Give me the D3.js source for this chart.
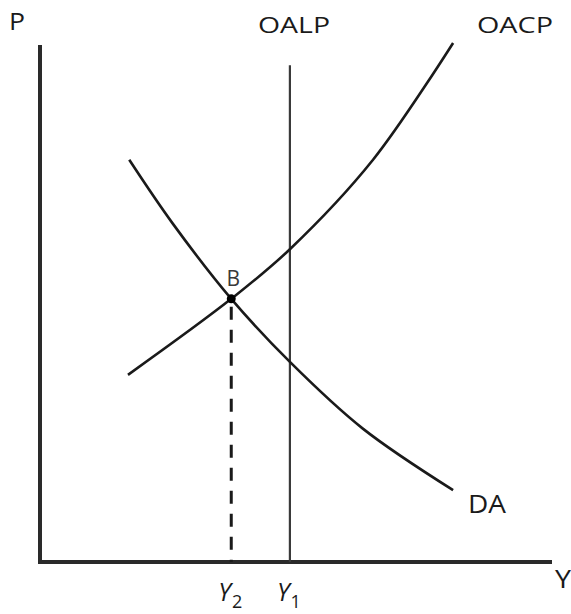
<!DOCTYPE html>
<html>
<head>
<meta charset="utf-8">
<script src="https://cdn.jsdelivr.net/npm/d3@7"></script>
<style>
  body { margin: 0; background: #fff; }
  text { font-family: "Open Sans", "Liberation Sans", sans-serif; fill: #1a1a1a; }
</style>
</head>
<body>
<svg id="chart" width="571" height="614"></svg>
<script>
// curve points (Y on x axis, P on y axis, both 0..100)
const oacpY = [17.25, 37.5, 49, 65.3, 81];
const oacpP = [36.2, 50.9, 60.5, 77.8, 100.4];

const daY = [17.5, 26, 37.5, 49, 63.3, 81];
const daP = [77.8, 65.5, 50.9, 38.7, 25.8, 13.9];

// long-run supply is vertical
const oalpY = 49;
const oalpTop = 96.1;

// equilibrium B
const eqY = 37.5, eqP = 50.9;

// labels under the axis
const tickNames = ["Y", "Y"];
const tickSubs = ["2", "1"];
const tickAt = [eqY, oalpY];

const svg = d3.select("#chart");
const x = d3.scaleLinear().domain([0, 100]).range([40, 550]);
const y = d3.scaleLinear().domain([0, 100]).range([562, 45]);

const line = d3.line().x(d => x(d[0])).y(d => y(d[1])).curve(d3.curveCatmullRom.alpha(0.5));

// axes
svg.append("line").attr("x1", x(0)).attr("x2", x(0)).attr("y1", y(100)).attr("y2", y(0) + 2)
  .attr("stroke", "#2a2a2a").attr("stroke-width", 4);
svg.append("line").attr("x1", x(0) - 2).attr("x2", x(100) + 2).attr("y1", y(0)).attr("y2", y(0))
  .attr("stroke", "#2a2a2a").attr("stroke-width", 4);

// OALP
svg.append("line").attr("x1", x(oalpY)).attr("x2", x(oalpY)).attr("y1", y(oalpTop)).attr("y2", y(0))
  .attr("stroke", "#3a3a3a").attr("stroke-width", 2.2);

// curves
svg.append("path").datum(d3.zip(oacpY, oacpP)).attr("d", line)
  .attr("fill", "none").attr("stroke", "#1a1a1a").attr("stroke-width", 2.6);
svg.append("path").datum(d3.zip(daY, daP)).attr("d", line)
  .attr("fill", "none").attr("stroke", "#1a1a1a").attr("stroke-width", 2.6);

// dashed drop line from B
svg.append("line").attr("x1", x(eqY)).attr("x2", x(eqY)).attr("y1", y(eqP) + 8).attr("y2", y(0))
  .attr("stroke", "#1a1a1a").attr("stroke-width", 3).attr("stroke-dasharray", "13,10");

svg.append("circle").attr("cx", x(eqY)).attr("cy", y(eqP)).attr("r", 4.5).attr("fill", "#000");
svg.append("text").attr("x", x(eqY) + 2).attr("y", y(eqP) - 13).attr("text-anchor", "middle")
  .attr("font-size", 21).style("fill", "#3a3a3a").text("B");

// curve / axis names, text is a bit wide in the source so stretch it
function label(t, px, py, size, w) {
  svg.append("text").attr("x", px).attr("y", py).attr("font-size", size)
    .attr("textLength", w).attr("lengthAdjust", "spacingAndGlyphs").text(t);
}
label("P", 9, 30, 24, 16);
label("OALP", 258, 33, 22, 72);
label("OACP", 477, 33, 22, 76);
label("DA", 468, 513, 25, 38);
label("Y", 555, 588, 25, 16);

tickNames.forEach((n, i) => {
  const t = svg.append("text").attr("x", x(tickAt[i]) - 13).attr("y", 601)
    .attr("font-size", 25).style("font-style", "italic");
  t.append("tspan").text(n);
  t.append("tspan").attr("font-size", 18).attr("dy", 7).attr("dx", 1).style("font-style", "normal").text(tickSubs[i]);
});
</script>
</body>
</html>
